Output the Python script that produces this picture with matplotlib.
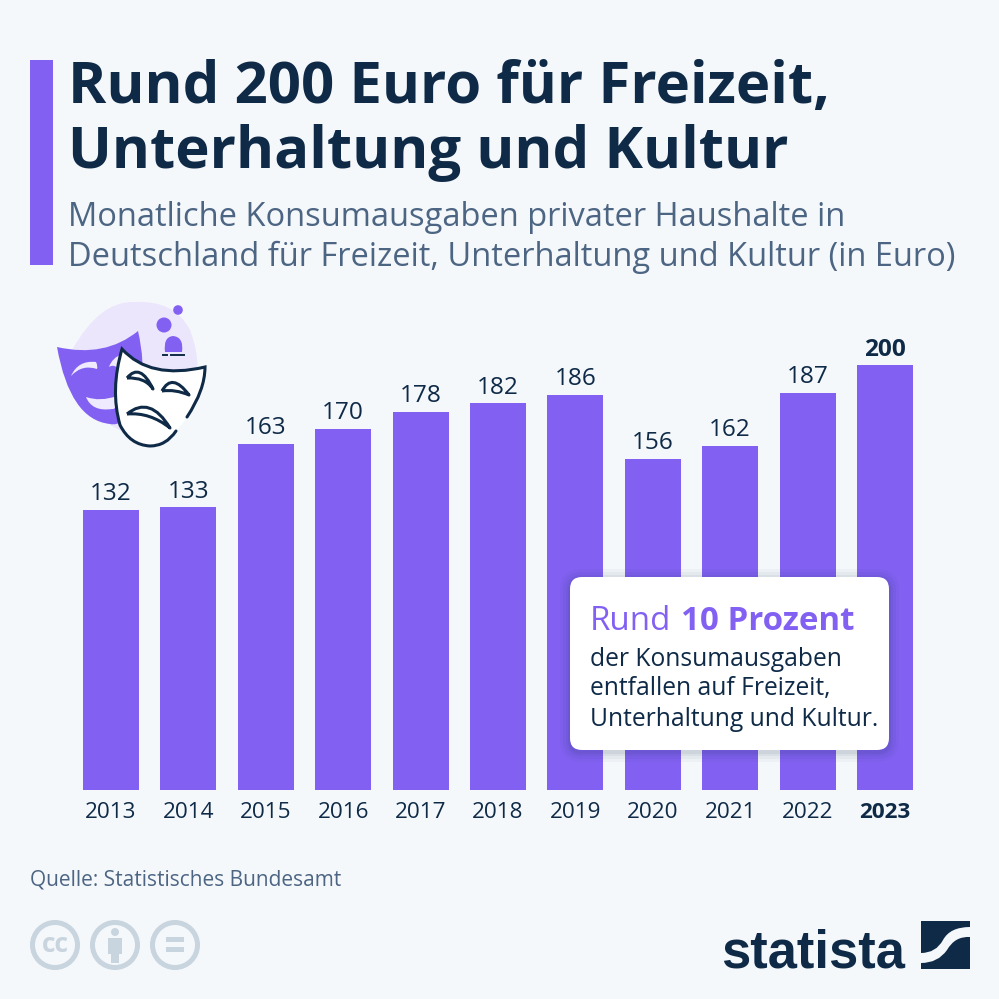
import numpy as np
import matplotlib
matplotlib.use("Agg")
import matplotlib.pyplot as plt
from matplotlib.patches import Rectangle, FancyBboxPatch, Circle, PathPatch
from matplotlib.path import Path

years = ["2013", "2014", "2015", "2016", "2017", "2018", "2019", "2020", "2021", "2022", "2023"]
spend = [132, 133, 163, 170, 178, 182, 186, 156, 162, 187, 200]

BG = "#f5f8fb"
PURPLE = "#8261f2"
NAVY = "#0f2a47"
SLATE = "#4c6583"
GREY = "#c8d4de"

plt.rcParams["font.family"] = ["Open Sans", "DejaVu Sans"]

fig = plt.figure(figsize=(9.99, 9.99), dpi=100, facecolor=BG)

# bars, axes placed by pixels of the reference
ax = fig.add_axes([72.3 / 999, (999 - 790) / 999, 851.4 / 999, 425 / 999])
ax.set_facecolor("none")
x = np.arange(len(years))
ax.bar(x, spend, width=0.725, color=PURPLE)
ax.set_xlim(-0.5, 10.5)
ax.set_ylim(0, 200)
ax.set_yticks([])
ax.set_xticks(x, years)
ax.tick_params(axis="x", length=0, pad=8.5, labelsize=16.2, labelcolor=NAVY)
ax.get_xticklabels()[-1].set_fontweight("bold")
for s in ax.spines.values():
    s.set_visible(False)
for i, v in enumerate(spend):
    ax.annotate(str(v), (i, v), xytext=(0, 2.5), textcoords="offset points", ha="center", va="bottom",
                fontsize=17.6, color=NAVY, fontweight="bold" if i == len(spend) - 1 else "normal")

# overlay in pixel coordinates for everything around the chart
ov = fig.add_axes([0, 0, 1, 1], zorder=5)
ov.set_xlim(0, 999)
ov.set_ylim(999, 0)
ov.axis("off")

ov.add_patch(Rectangle((30, 60), 23, 205, color=PURPLE, lw=0))
ov.text(68, 88, "Rund 200 Euro für Freizeit,", fontsize=41.9, fontweight="bold", color=NAVY, va="center")
ov.text(68, 153, "Unterhaltung und Kultur", fontsize=41.9, fontweight="bold", color=NAVY, va="center")
ov.text(68, 217, "Monatliche Konsumausgaben privater Haushalte in", fontsize=23.5, color=SLATE, va="center")
ov.text(68, 257, "Deutschland für Freizeit, Unterhaltung und Kultur (in Euro)", fontsize=23.5, color=SLATE, va="center")

# callout with a soft shadow
for grow, alpha in [(10, 0.03), (7, 0.04), (4, 0.05), (2, 0.06)]:
    ov.add_patch(FancyBboxPatch((570 - grow, 577 - grow + 2), 319 + 2 * grow, 173 + 2 * grow,
                                boxstyle="round,pad=0,rounding_size=%d" % (12 + grow),
                                fc=NAVY, ec="none", alpha=alpha))
ov.add_patch(FancyBboxPatch((570, 577), 319, 173, boxstyle="round,pad=0,rounding_size=12", fc="white", ec="none"))
ov.text(590, 621, "Rund", fontsize=23.9, color=PURPLE, va="center")
ov.text(681, 621, "10 Prozent", fontsize=23.9, color=PURPLE, fontweight="bold", va="center")
ov.text(590, 659, "der Konsumausgaben", fontsize=17.7, color=NAVY, va="center")
ov.text(590, 689, "entfallen auf Freizeit,", fontsize=17.7, color=NAVY, va="center")
ov.text(590, 719, "Unterhaltung und Kultur.", fontsize=17.7, color=NAVY, va="center")

# source
ov.text(30, 880, "Quelle: Statistisches Bundesamt", fontsize=15, color=SLATE, va="center")

# cc icons
for cx in [55, 115, 175]:
    ov.add_patch(Circle((cx, 945), 22.5, fc="none", ec=GREY, lw=3.6))
ov.text(55, 944, "cc", fontsize=19, fontweight="bold", color=GREY, ha="center", va="center")
ov.add_patch(Circle((115, 932), 4, fc=GREY, ec="none"))
ov.add_patch(Rectangle((108, 938), 14, 16, fc=GREY, ec="none"))
ov.add_patch(Rectangle((111, 952), 8, 11, fc=GREY, ec="none"))
ov.add_patch(Rectangle((166, 937), 18, 5, fc=GREY, ec="none"))
ov.add_patch(Rectangle((166, 947), 18, 5, fc=GREY, ec="none"))


def shape(start, *segments, **kw):
    # segments are (ctrl, end) quadratic or (end,) straight pieces
    verts = [start]
    codes = [Path.MOVETO]
    for seg in segments:
        if len(seg) == 2:
            verts += list(seg)
            codes += [Path.CURVE3, Path.CURVE3]
        else:
            verts += list(seg)
            codes += [Path.LINETO]
    return PathPatch(Path(verts, codes), **kw)


# logo
ov.text(721, 968, "statista", fontsize=37.8, fontweight="bold", color=NAVY, ha="left", va="baseline",
        family=["Liberation Sans", "DejaVu Sans"])
ov.add_patch(shape((921, 921), ((970, 921),), ((970, 927),), ((950, 927), (943, 940)), ((936, 953), (921, 953),),
                   fc=NAVY, ec="none"))
ov.add_patch(shape((970, 937), ((955, 936), (947, 950)), ((938, 963), (921, 963)), ((921, 969),), ((970, 969),),
                   fc=NAVY, ec="none"))

# mask illustration
ov.add_patch(shape((72, 350), ((100, 300), (135, 302)), ((175, 300), (190, 330)), ((205, 370), (190, 395)),
                   ((160, 440), (125, 432)), ((85, 420), (72, 350)), fc="#ece6fd", ec="none"))
ov.add_patch(Circle((178, 310), 4.8, fc=PURPLE, ec="none"))
ov.add_patch(Circle((164, 325), 7.5, fc=PURPLE, ec="none"))
ov.add_patch(shape((165, 352), ((163, 337), (173, 336)), ((184, 337), (182, 352)), fc=PURPLE, ec="none"))
ov.plot([163, 167], [355, 355], color=NAVY, lw=1.4)
ov.plot([171, 184], [355, 355], color=NAVY, lw=1.4)
ov.add_patch(shape((57, 347), ((105, 358), (138, 331)), ((145, 360), (142, 395)), ((125, 428), (110, 424)),
                   ((70, 420), (57, 347)), fc=PURPLE, ec="none"))
ov.add_patch(shape((71, 376), ((78, 360), (96, 362)), ((98, 366), (97, 369)), ((82, 364), (71, 376)),
                   fc="#efeafd", ec="none"))
ov.add_patch(shape((109, 367), ((112, 358), (122, 354)), ((122, 365), (118, 368)), ((113, 364), (109, 367)),
                   fc="#efeafd", ec="none"))
ov.add_patch(shape((86, 397), ((100, 402), (117, 396)), ((118, 410), (112, 409)), ((92, 412), (86, 397)),
                   fc="#efeafd", ec="none"))
ov.add_patch(shape((122, 349), ((150, 380), (205, 367)), ((205, 390), (187, 417)), ((176, 436), (150, 446)),
                   ((130, 445), (120, 425)), ((110, 390), (122, 349)), fc="white", ec="none"))
ov.add_patch(shape((187, 417), ((205, 390), (205, 367)), ((150, 380), (122, 349)), ((110, 390), (120, 425)),
                   ((130, 445), (150, 446)), ((166, 446), (176, 431)), fc="none", ec=NAVY, lw=2.2, capstyle="round"))
for eye in (((127, 378), ((140, 362), (153, 389)), ((145, 377), (127, 378))),
            ((162, 391), ((172, 372), (189, 395)), ((175, 389), (162, 391))),
            ((127, 414), ((150, 395), (170, 428)), ((150, 412), (127, 414)))):
    ov.add_patch(shape(eye[0], *eye[1:], fc="none", ec=NAVY, lw=2.2, joinstyle="round"))

fig.savefig("out.png", dpi=100, facecolor=BG)
